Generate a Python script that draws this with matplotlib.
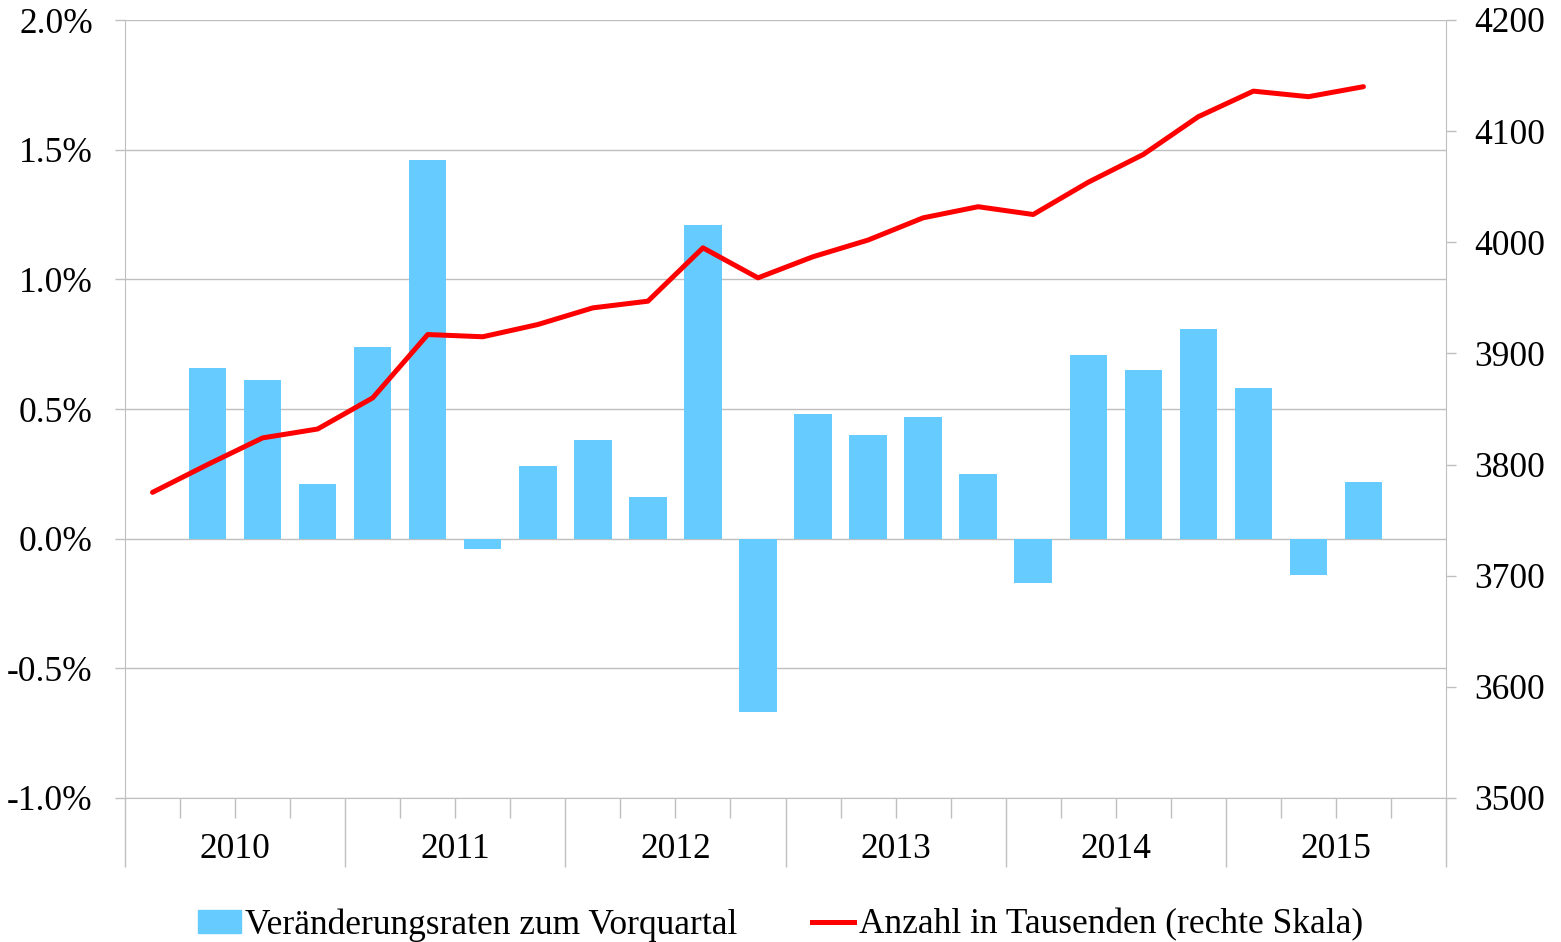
import numpy as np
import matplotlib
matplotlib.use("Agg")
import matplotlib.pyplot as plt
from matplotlib.patches import Patch
from matplotlib.lines import Line2D

# quarterly data, 2010 Q1 .. 2015 Q3
years = ["2010", "2011", "2012", "2013", "2014", "2015"]
rate_pct = [0.66, 0.61, 0.21, 0.74, 1.46, -0.04, 0.28, 0.38, 0.16, 1.21, -0.67,
            0.48, 0.40, 0.47, 0.25, -0.17, 0.71, 0.65, 0.81, 0.58, -0.14, 0.22]
count_k = [3775, 3800, 3824, 3832, 3860, 3917, 3915, 3926, 3941, 3947, 3995, 3968,
           3987, 4002, 4022, 4032, 4025, 4054, 4079, 4113, 4136, 4131, 4140]
left_ticks = [-1.0, -0.5, 0.0, 0.5, 1.0, 1.5, 2.0]
left_labels = ["-1.0%", "-0.5%", "0.0%", "0.5%", "1.0%", "1.5%", "2.0%"]
right_ticks = [3500, 3600, 3700, 3800, 3900, 4000, 4100, 4200]

plt.rcParams["font.family"] = ["Liberation Serif", "DejaVu Serif"]
FS = 25.5
GRAY = "#BFBFBF"

fig = plt.figure(figsize=(15.61, 9.42), dpi=100)
ax = fig.add_axes([125 / 1561, 1 - 798 / 942, (1446 - 125) / 1561, 778 / 942])

n_slots = len(years) * 4
x_line = np.arange(len(count_k))
x_bar = np.arange(1, len(rate_pct) + 1)

ax.bar(x_bar, rate_pct, width=0.68, color="#66CCFF", zorder=2)
ax.set_xlim(-0.5, n_slots - 0.5)
ax.set_ylim(-1.0, 2.0)
ax.set_yticks(left_ticks)
ax.set_yticklabels(left_labels, fontsize=FS)
ax.yaxis.grid(True, color=GRAY, lw=1.0, zorder=0)
ax.set_axisbelow(True)
ax.tick_params(axis="y", direction="out", length=7.2, width=1.0, color=GRAY, pad=16)

major = np.arange(-0.5, n_slots, 4)
minor = [b for b in np.arange(-0.5, n_slots, 1) if b not in major]
ax.set_xticks(major)
ax.set_xticklabels([])
ax.set_xticks(minor, minor=True)
ax.tick_params(axis="x", which="major", direction="out", length=49.5, width=1.0, color=GRAY)
ax.tick_params(axis="x", which="minor", direction="out", length=14.4, width=1.0, color=GRAY)

for i, y in enumerate(years):
    ax.text(4 * i + 1.5, -0.066, y, transform=ax.get_xaxis_transform(),
            ha="center", va="center", fontsize=FS)

for s in ["top", "right"]:
    ax.spines[s].set_visible(False)
for s in ["left", "bottom"]:
    ax.spines[s].set_color(GRAY)

ax2 = ax.twinx()
ax2.plot(x_line, count_k, color="#FF0000", lw=3.6, solid_capstyle="round",
         solid_joinstyle="round", zorder=3)
ax2.set_ylim(3500, 4200)
ax2.set_yticks(right_ticks)
ax2.set_yticklabels([str(v) for v in right_ticks], fontsize=FS)
ax2.tick_params(axis="y", direction="out", length=7.2, width=1.0, color=GRAY, pad=13)
for s in ["top", "left", "bottom"]:
    ax2.spines[s].set_visible(False)
ax2.spines["right"].set_color(GRAY)

handles = [Patch(color="#66CCFF"), Line2D([], [], color="#FF0000", lw=3.6)]
fig.legend(handles, ["Veränderungsraten zum Vorquartal", "Anzahl in Tausenden (rechte Skala)"],
           loc="center", bbox_to_anchor=(0.5, 0.018), ncol=2, frameon=False,
           fontsize=FS, handlelength=1.2, handletextpad=0.12, columnspacing=2.1,
           handleheight=0.6)

fig.savefig("out.png", dpi=100)
